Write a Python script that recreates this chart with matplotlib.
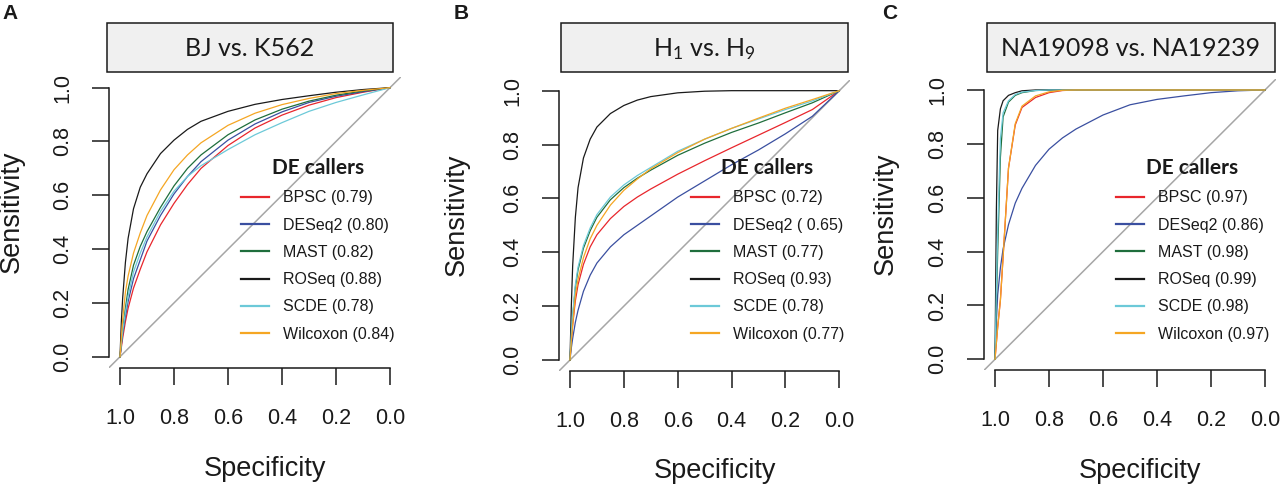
import matplotlib
matplotlib.use("Agg")
import matplotlib.pyplot as plt
from matplotlib.patches import Rectangle

# ---------------- data ----------------
# specificity grid (x), sensitivities (y)
spec_grid = [1.0, 0.995, 0.99, 0.98, 0.97, 0.95, 0.925, 0.9, 0.85, 0.8,
             0.75, 0.7, 0.6, 0.5, 0.4, 0.3, 0.2, 0.1, 0.0]

callers = ["BPSC", "DESeq2", "MAST", "ROSeq", "SCDE", "Wilcoxon"]
caller_colors = ["#e8262c", "#3a4fa0", "#1f6e3c", "#1a1a1a", "#6cc9d8", "#f5a623"]

# Panel A: BJ vs. K562
a_bpsc     = [0, .035, .07, .13, .18, .255, .325, .39, .49, .57, .64, .70, .785, .85, .898, .935, .963, .983, 1]
a_deseq2   = [0, .045, .085, .15, .205, .29, .36, .43, .525, .605, .67, .725, .805, .865, .91, .945, .968, .985, 1]
a_mast     = [0, .05, .10, .18, .25, .34, .41, .465, .555, .635, .70, .75, .825, .88, .92, .95, .972, .988, 1]
a_roseq    = [0, .13, .22, .35, .44, .55, .63, .68, .755, .805, .845, .875, .912, .938, .956, .97, .983, .993, 1]
a_scde     = [0, .05, .095, .165, .225, .315, .385, .445, .54, .615, .67, .71, .77, .825, .87, .912, .945, .973, 1]
a_wilcoxon = [0, .07, .14, .24, .30, .385, .46, .525, .62, .695, .75, .795, .86, .905, .937, .96, .978, .99, 1]
a_auc = ["0.79", "0.80", "0.82", "0.88", "0.78", "0.84"]

# Panel B: H1 vs. H9
b_bpsc     = [0, .07, .13, .22, .28, .355, .42, .465, .525, .57, .605, .635, .69, .74, .788, .835, .882, .93, 1]
b_deseq2   = [0, .045, .08, .14, .185, .255, .315, .36, .42, .465, .50, .535, .605, .665, .725, .78, .84, .905, 1]
b_mast     = [0, .09, .16, .27, .335, .415, .48, .53, .595, .64, .675, .705, .76, .805, .845, .88, .918, .955, 1]
b_roseq    = [0, .20, .35, .53, .64, .75, .82, .865, .915, .945, .965, .978, .992, .998, 1, 1, 1, 1, 1]
b_scde     = [0, .10, .17, .28, .345, .425, .49, .54, .605, .65, .685, .715, .775, .82, .86, .895, .93, .962, 1]
b_wilcoxon = [0, .07, .13, .24, .30, .38, .45, .50, .575, .63, .672, .71, .77, .82, .86, .898, .935, .967, 1]
b_auc = ["0.72", " 0.65", "0.77", "0.93", "0.78", "0.77"]

# Panel C: NA19098 vs. NA19239
c_bpsc     = [0, .06, .12, .22, .38, .71, .87, .935, .972, .99, .998, 1, 1, 1, 1, 1, 1, 1, 1]
c_deseq2   = [0, .14, .24, .34, .41, .50, .58, .635, .72, .78, .822, .855, .907, .945, .965, .978, .99, .997, 1]
c_mast     = [0, .20, .40, .75, .90, .955, .98, .99, .998, 1, 1, 1, 1, 1, 1, 1, 1, 1, 1]
c_roseq    = [0, .55, .85, .93, .96, .98, .99, .997, 1, 1, 1, 1, 1, 1, 1, 1, 1, 1, 1]
c_scde     = [0, .25, .48, .82, .915, .96, .983, .992, .998, 1, 1, 1, 1, 1, 1, 1, 1, 1, 1]
c_wilcoxon = [0, .06, .12, .22, .38, .71, .875, .94, .978, .993, .999, 1, 1, 1, 1, 1, 1, 1, 1]
c_auc = ["0.97", "0.86", "0.98", "0.99", "0.98", "0.97"]

panel_letters = ["A", "B", "C"]
panel_titles = ["BJ vs. K562", r"$\mathregular{H_1}$ vs. $\mathregular{H_9}$", "NA19098 vs. NA19239"]
tick_vals = [1.0, 0.8, 0.6, 0.4, 0.2, 0.0]
tick_labels = ["1.0", "0.8", "0.6", "0.4", "0.2", "0.0"]

# ---------------- layout (pixels) ----------------
W, H = 1280, 486
fig = plt.figure(figsize=(W / 100, H / 100), dpi=100)

def fx(x):
    return x / W

def fy(y):
    return 1 - y / H

panels = [
    dict(ax=(109.2, 400.8, 76.9, 367.5), box=(106.7, 393.3, 23.3, 72.3),
         letter=(10, 13.5), ylab=(12, 212), xlab=(265, 476), leg=(241, 158),
         data=[a_bpsc, a_deseq2, a_mast, a_roseq, a_scde, a_wilcoxon], auc=a_auc),
    dict(ax=(559.2, 850.1, 79.9, 370.8), box=(561, 848.3, 23.3, 72.3),
         letter=(461, 13.5), ylab=(457, 215), xlab=(715, 478), leg=(691, 158),
         data=[b_bpsc, b_deseq2, b_mast, b_roseq, b_scde, b_wilcoxon], auc=b_auc),
    dict(ax=(984.2, 1275.8, 79.2, 370.1), box=(986.7, 1275, 23.3, 72.3),
         letter=(889.5, 13.5), ylab=(886, 213.5), xlab=(1140, 477.5), leg=(1116, 158),
         data=[c_bpsc, c_deseq2, c_mast, c_roseq, c_scde, c_wilcoxon], auc=c_auc),
]

TXT = "#1a1a1a"
for i, p in enumerate(panels):
    l, r, t, b = p["ax"]
    ax = fig.add_axes([fx(l), fy(b), fx(r - l), (b - t) / H])
    ax.set_xlim(1.04, -0.04)
    ax.set_ylim(-0.04, 1.04)
    ax.axline((1, 0), (0, 1), color="#a6a6a6", lw=1.1, zorder=1)
    for name, col, sens, auc in zip(callers, caller_colors, p["data"], p["auc"]):
        ax.plot(spec_grid, sens, color=col, lw=0.9, label=f"{name} ({auc})", zorder=2)

    for s in ["top", "right"]:
        ax.spines[s].set_visible(False)
    for s in ["left", "bottom"]:
        ax.spines[s].set_bounds(0, 1)
        ax.spines[s].set_linewidth(1.1)
        ax.spines[s].set_color(TXT)
    ax.set_xticks(tick_vals)
    ax.set_xticklabels(tick_labels)
    ax.set_yticks(tick_vals)
    ax.set_yticklabels(tick_labels)
    ax.tick_params(axis="both", direction="out", length=12, width=1.1, color=TXT,
                   labelsize=15.5, labelcolor=TXT)
    ax.tick_params(axis="x", pad=17)
    ax.tick_params(axis="y", pad=14, labelrotation=90)
    for lab in ax.get_xticklabels() + ax.get_yticklabels():
        lab.set_fontfamily("Liberation Sans")
    for lab in ax.get_yticklabels():
        lab.set_va("center")
    ax.patch.set_alpha(0)

    leg = ax.legend(loc="upper left",
                    bbox_to_anchor=(fx(p["leg"][0]), fy(p["leg"][1])),
                    bbox_transform=fig.transFigure, frameon=False,
                    borderpad=0, borderaxespad=0, handlelength=1.75,
                    handletextpad=0.85, labelspacing=0.77,
                    prop={"family": "Liberation Sans", "size": 11.5},
                    title="DE callers",
                    title_fontproperties={"family": "Lato", "weight": "bold", "size": 15})
    for h in leg.get_lines():
        h.set_linewidth(1.6)
    for txt in leg.get_texts():
        txt.set_color(TXT)
    leg.get_title().set_color(TXT)

    # title box
    bl, br, bt, bb = p["box"]
    fig.patches.append(Rectangle((fx(bl), fy(bb)), fx(br - bl), (bb - bt) / H,
                                 transform=fig.transFigure, facecolor="#f0f0f0",
                                 edgecolor=TXT, lw=1.1))
    fig.text(fx((bl + br) / 2), fy((bt + bb) / 2 + 1), panel_titles[i],
             ha="center", va="center", fontsize=18, family="Lato", color=TXT)

    # panel letter
    fig.text(fx(p["letter"][0]), fy(p["letter"][1]), panel_letters[i],
             ha="center", va="center", fontsize=15, weight="bold",
             family="Liberation Sans", color=TXT)
    # axis labels
    fig.text(fx(p["ylab"][0]), fy(p["ylab"][1]), "Sensitivity", rotation=90,
             ha="center", va="center", fontsize=19.5, family="Liberation Sans", color=TXT)
    fig.text(fx(p["xlab"][0]), fy(p["xlab"][1]), "Specificity",
             ha="center", va="baseline", fontsize=19.5, family="Liberation Sans", color=TXT)

fig.savefig("out.png", dpi=100, facecolor="white")
